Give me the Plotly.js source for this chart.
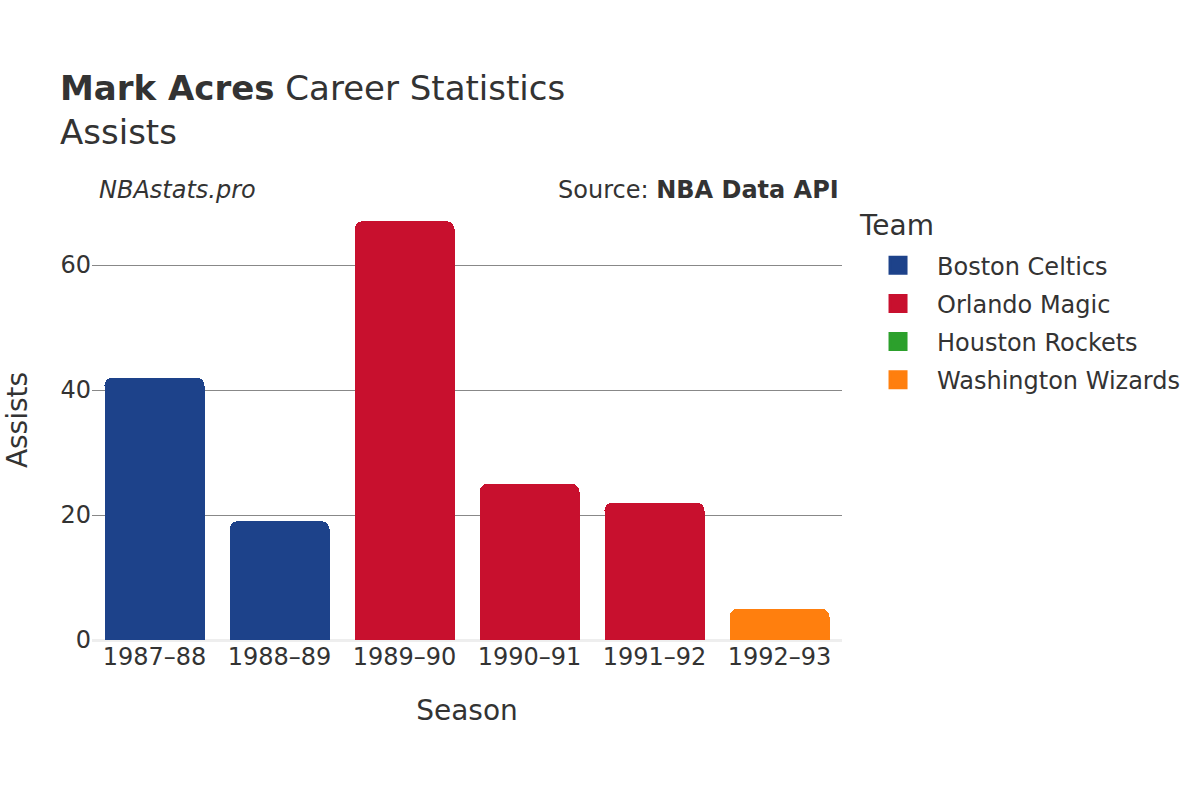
<!DOCTYPE html>
<html>
<head>
<meta charset="utf-8">
<script src="https://cdn.plot.ly/plotly-3.0.1.min.js"></script>
<style>html,body{margin:0;padding:0;background:#fff;}#chart{width:1200px;height:800px;}</style>
</head>
<body>
<div id="chart"></div>
<script>
const seasons = ["1987–88", "1988–89", "1989–90", "1990–91", "1991–92", "1992–93"];
const teams = ["Boston Celtics", "Orlando Magic", "Houston Rockets", "Washington Wizards"];
const teamColors = ["#1D428A", "#C8102E", "#2CA02C", "#FF7F0E"];
const bostonSeasons = ["1987–88", "1988–89"];
const bostonAssists = [42, 19];
const orlandoSeasons = ["1989–90", "1990–91", "1991–92"];
const orlandoAssists = [67, 25, 22];
const houstonSeasons = ["1992–93"];
const houstonAssists = [0];
const washingtonSeasons = ["1992–93"];
const washingtonAssists = [5];

const xs = [bostonSeasons, orlandoSeasons, houstonSeasons, washingtonSeasons];
const ys = [bostonAssists, orlandoAssists, houstonAssists, washingtonAssists];
const FONT = "DejaVu Sans, sans-serif";

const bars = teams.map((t, i) => ({
  type: "bar",
  name: t,
  legendgroup: t,
  showlegend: false,
  x: xs[i],
  y: ys[i],
  marker: {color: teamColors[i]},
  hoverinfo: "x+y+name"
}));
const legendMarks = teams.map((t, i) => ({
  type: "scatter",
  mode: "markers",
  name: t,
  legendgroup: t,
  x: [null],
  y: [null],
  marker: {symbol: "square", size: 20, color: teamColors[i], line: {width: 3, color: teamColors[i]}},
  hoverinfo: "skip"
}));

const layout = {
  width: 1200, height: 800,
  paper_bgcolor: "#fff", plot_bgcolor: "#fff",
  font: {family: FONT, color: "#333", size: 24},
  margin: {l: 92, r: 358, t: 200, b: 160, autoexpand: false},
  barmode: "stack",
  bargap: 0.2,
  barcornerradius: 8,
  title: {
    text: "<b>Mark Acres</b> Career Statistics<br>Assists",
    x: 0.05, xanchor: "left", y: 0.875, yanchor: "top",
    font: {family: FONT, size: 34, color: "#333"}
  },
  xaxis: {
    categoryorder: "array", categoryarray: seasons,
    title: {text: "Season", font: {size: 28}, standoff: 30},
    tickfont: {size: 24},
    showgrid: false, zeroline: false, showline: false
  },
  yaxis: {
    title: {text: "Assists", font: {size: 28}, standoff: 24},
    tickfont: {size: 24},
    range: [0, 70.4],
    tickvals: [0, 20, 40, 60],
    showgrid: true, gridcolor: "#888", gridwidth: 1,
    zeroline: true, zerolinecolor: "#eee", zerolinewidth: 3
  },
  legend: {
    traceorder: "grouped",
    x: 1.0227, xanchor: "left", y: 0.902, yanchor: "top",
    font: {size: 24},
    tracegroupgap: 4, itemwidth: 68
  },
  annotations: [
    {text: "Team", xref: "paper", yref: "paper", x: 1.02, y: 0.941, xanchor: "left", yanchor: "middle", showarrow: false, font: {size: 28, color: "#333"}},
    {text: "<i>NBAstats.pro</i>", xref: "paper", yref: "paper", x: 0.007, y: 1.0, yshift: -6, xanchor: "left", yanchor: "bottom", showarrow: false, font: {size: 24, color: "#333"}},
    {text: "Source: <b>NBA Data API</b>", xref: "paper", yref: "paper", x: 0.998, y: 1.0, yshift: -6, xanchor: "right", yanchor: "bottom", showarrow: false, font: {size: 24, color: "#333"}}
  ]
};

Plotly.newPlot("chart", bars.concat(legendMarks), layout, {displayModeBar: false});
</script>
</body>
</html>
